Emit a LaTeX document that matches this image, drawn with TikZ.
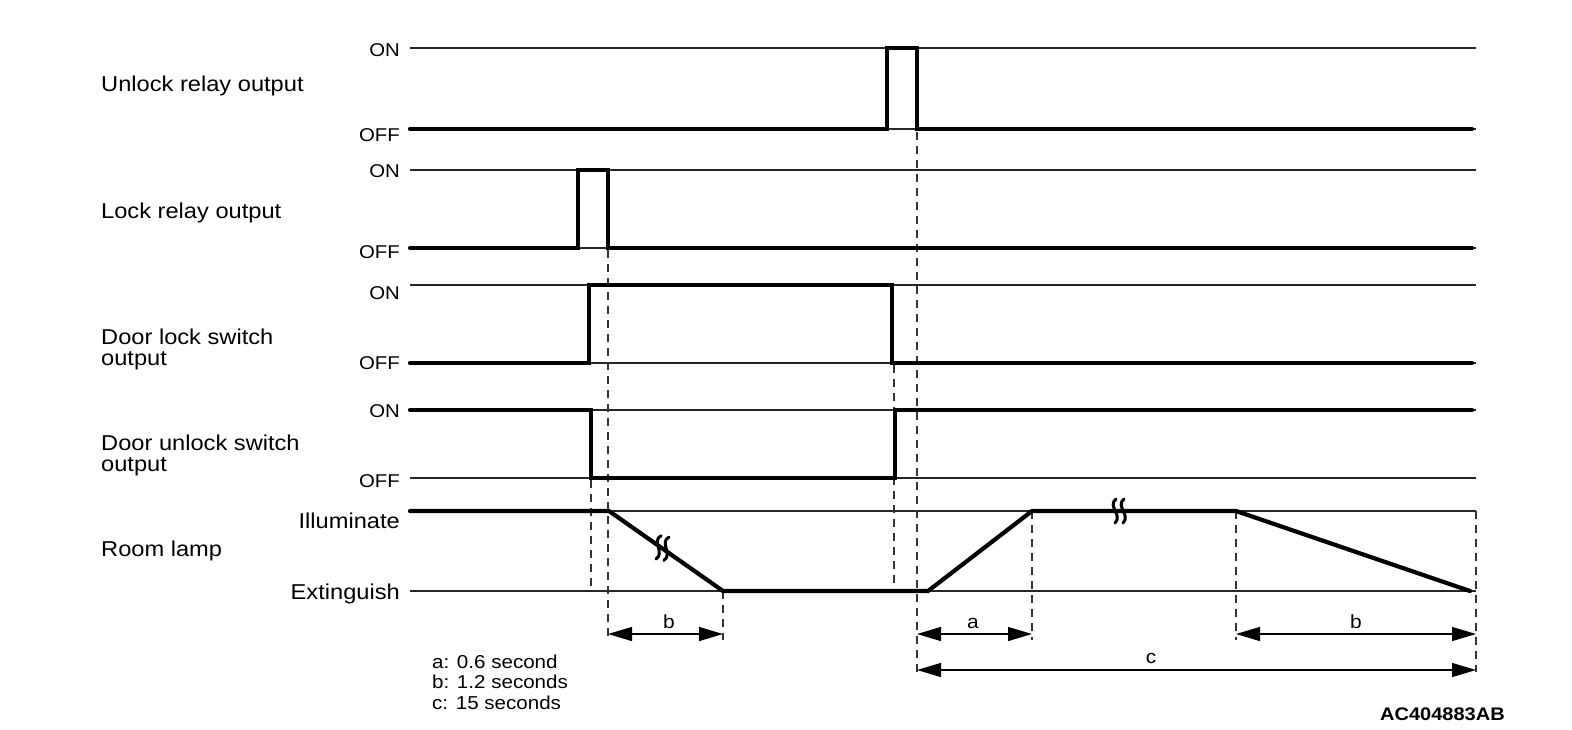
\documentclass[tikz,border=0pt]{standalone}
\usepackage{fontspec}
\setmainfont{Liberation Sans}[FakeStretch=1.1]
\usetikzlibrary{arrows.meta}
\begin{document}
\begin{tikzpicture}[x=1pt,y=-1pt,
  refl/.style={line width=1.3pt, black!85},
  sig/.style={line width=4.2pt, line join=miter, line cap=round},
  guide/.style={line width=1.4pt, black!80, dash pattern=on 8pt off 6pt},
  dim/.style={line width=1.3pt, {Triangle[length=24pt,width=14pt]}-{Triangle[length=24pt,width=14pt]}},
  brkmark/.style={line width=3pt, line cap=round},
  lab/.style={anchor=base west, font=\fontsize{21.5}{21}\selectfont, align=left, inner sep=0pt},
  lvl/.style={anchor=base east, font=\fontsize{18.5}{18.5}\selectfont, inner sep=0pt},
  lvlb/.style={anchor=base east, font=\fontsize{21.5}{21.5}\selectfont, inner sep=0pt},
  dimlab/.style={anchor=base, font=\fontsize{19}{19}\selectfont, inner sep=0pt},
  legend/.style={anchor=base west, font=\fontsize{18.7}{20.5}\selectfont, align=left, inner sep=0pt},
]
\useasboundingbox (0,0) rectangle (1572,729);

% row labels
\node[lab] (l1) at (101,91) {Unlock relay output};
\node[lab] (l2) at (101,218) {Lock relay output};
\node[lab] (l3a) at (101,344) {Door lock switch};
\node[lab] (l3b) at (101,365) {output};
\node[lab] (l4a) at (101,450) {Door unlock switch};
\node[lab] (l4b) at (101,471) {output};
\node[lab] (l5) at (101,556) {Room lamp};

% level labels
\node[lvl] (on1) at (400,56) {ON};
\node[lvl] (off1) at (400,141) {OFF};
\node[lvl] (on2) at (400,177) {ON};
\node[lvl] (off2) at (400,258) {OFF};
\node[lvl] (on3) at (400,299) {ON};
\node[lvl] (off3) at (400,369) {OFF};
\node[lvl] (on4) at (400,417) {ON};
\node[lvl] (off4) at (400,487) {OFF};
\node[lvlb] (ill) at (400,528) {Illuminate};
\node[lvlb] (ext) at (400,599) {Extinguish};

% reference lines
\foreach \y in {48,129,170,248,285,363,410,478,591}
  \draw[refl] (410,\y) -- (1476,\y);
\draw[refl] (410,511) -- (1476,511);

% guides
\draw[guide] (917,132) -- (917,676);
\draw[guide] (608,250) -- (608,640);
\draw[guide] (591,480) -- (591,591);
\draw[guide] (894,365) -- (894,591);
\draw[guide] (723,591) -- (723,640);
\draw[guide] (1032,511) -- (1032,640);
\draw[guide] (1236,511) -- (1236,640);
\draw[guide] (1476,511) -- (1476,672);

% signals
\draw[sig] (410,129) -- (887,129) -- (887,48) -- (917,48) -- (917,129) -- (1472,129);
\draw[sig] (410,248) -- (578,248) -- (578,170) -- (608,170) -- (608,248) -- (1472,248);
\draw[sig] (410,363) -- (589,363) -- (589,285) -- (892,285) -- (892,363) -- (1472,363);
\draw[sig] (410,410) -- (591,410) -- (591,478) -- (895,478) -- (895,410) -- (1472,410);
\draw[sig] (410,511) -- (609,511) -- (723,591) -- (928,591) -- (1032,511) -- (1236,511) -- (1470,591);

% break marks
\foreach \cx/\cy/\r in {662/548/-10, 1119/511/0}{
  \begin{scope}[shift={(\cx,\cy)}, rotate=\r]
    \draw[brkmark] (-3,-12) .. controls (-12,-5) and (4,4) .. (-4,12);
    \draw[brkmark] (5,-12) .. controls (-4,-5) and (12,4) .. (4,12);
  \end{scope}}

% dimension arrows
\coordinate (b1s) at (608,634); \coordinate (b1e) at (723,634);
\coordinate (as) at (917,634);  \coordinate (ae) at (1032,634);
\coordinate (b2s) at (1236,634); \coordinate (b2e) at (1476,634);
\coordinate (cs) at (917,670);  \coordinate (ce) at (1476,670);
\draw[dim] (b1s) -- (b1e);
\draw[dim] (as) -- (ae);
\draw[dim] (b2s) -- (b2e);
\draw[dim] (cs) -- (ce);
\node[dimlab] (tb1) at (669,628) {b};
\node[dimlab] (ta) at (973,628) {a};
\node[dimlab] (tb2) at (1356,628) {b};
\node[dimlab] (tc) at (1151,663) {c};

% legend
\node[legend] (lg1) at (432,668) {a: 0.6 second};
\node[legend] (lg2) at (432,688) {b: 1.2 seconds};
\node[legend] (lg3) at (432,709) {c: 15 seconds};

\node[anchor=base east, font=\bfseries\fontsize{18.2}{18.2}\selectfont, inner sep=0pt] (code) at (1505,720) {AC404883AB};
\end{tikzpicture}
\end{document}
